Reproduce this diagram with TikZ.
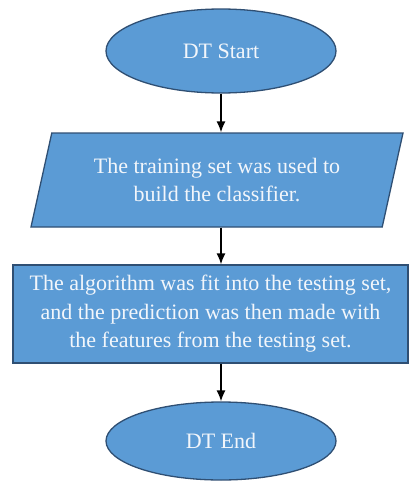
\documentclass[tikz,border=0pt]{standalone}
\usepackage{fontspec}
\setmainfont{Liberation Serif}
\usepackage{tikz}
\usetikzlibrary{arrows.meta,shapes.geometric}
\definecolor{boxblue}{HTML}{5B9BD5}
\definecolor{boxline}{HTML}{2F4F73}
\definecolor{boxtext}{HTML}{F2F6FB}

\begin{document}
\begin{tikzpicture}[x=1pt,y=-1pt,
  flow/.style={draw=boxline,line width=1.3pt,fill=boxblue,text=boxtext,
    font=\fontsize{22}{28.5}\selectfont,align=center,inner sep=0pt},
  term/.style={flow,ellipse,minimum width=230pt,minimum height=84pt},
  io/.style={flow,trapezium,trapezium left angle=77,trapezium right angle=103,
    trapezium stretches body,inner ysep=23pt,minimum width=372pt,minimum height=94pt},
  proc/.style={flow,rectangle,minimum width=395pt,minimum height=98pt},
  link/.style={-{Latex[length=11pt,width=9pt]},line width=1.4pt,black}]
\useasboundingbox (0,0) rectangle (409,482);
% blocks
\node[term] (start) at (221,51) {DT Start};
\node[io] (train) at (217,180) {The training set was used to\\build the classifier.};
\node[proc] (fit) at (210.5,314) {The algorithm was fit into the testing set,\\and the prediction was then made with\\the features from the testing set.};
\node[term,minimum height=78pt] (stop) at (221,441) {DT End};
% arrows
\draw[link] (start.south) -- (start.south |- train.north) ;
\draw[link] (start.south |- train.south) -- (start.south |- fit.north) ;
\draw[link] (start.south |- fit.south) -- (stop.north) ;
\end{tikzpicture}
\end{document}
